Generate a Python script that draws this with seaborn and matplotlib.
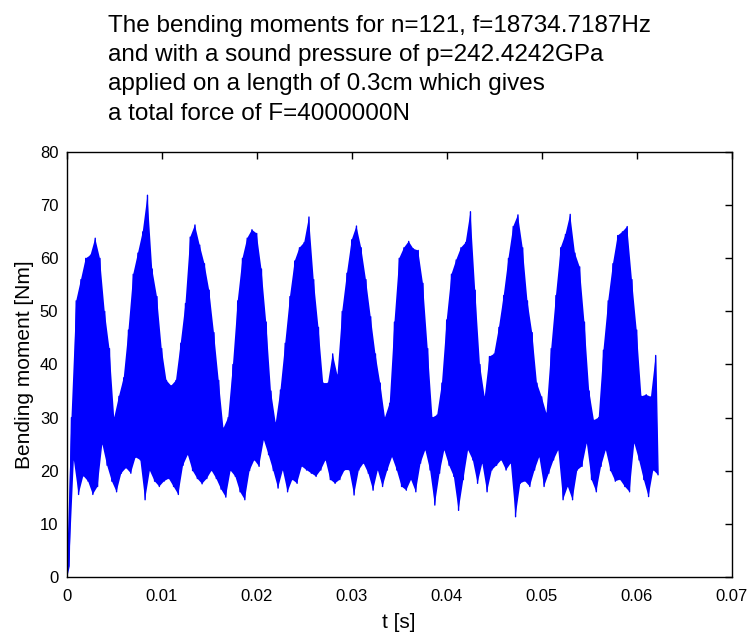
import numpy as np
import pandas as pd
import matplotlib
matplotlib.use("Agg")
import matplotlib.pyplot as plt
import seaborn as sns

# Upper envelope (peaks) sampled every 0.5 ms starting at t = 0
upper_peaks = [0, 30, 52, 56, 60, 60.6, 63.8, 60, 50, 43,
               30, 34, 37.5, 46.5, 57, 61, 65, 71.9, 58, 52.8,
               43, 37, 36, 37, 44, 51.5, 64, 66.3, 62.5, 59,
               54, 46, 37, 28, 30, 40, 52, 60, 63.8, 65.4,
               64.7, 58, 48, 35, 29, 35.2, 44, 52.8, 59.5, 62,
               63, 67.8, 56, 47, 36.5, 36.5, 42, 38, 50, 57.2,
               63.5, 66.1, 62, 56, 49, 42, 36.5, 30, 32.7, 48,
               60, 62, 63.2, 61.8, 61.5, 55.3, 43, 30, 30.5, 36.5,
               48.4, 57, 59.7, 62, 63, 68.8, 54, 40, 33.9, 41.5,
               42, 47, 53, 60, 66, 68.2, 62, 52, 46, 36.5,
               33.9, 30.8, 43, 53, 62, 64.5, 68.3, 61, 58.4, 48,
               35, 29.5, 30, 42.7, 52, 59, 64.3, 65, 66, 56,
               46.5, 34, 34.3, 33.9, 41.7]

# Lower envelope (troughs) sampled every 0.5 ms starting at t = 0.25 ms
lower_troughs = [2, 22, 15.5, 19, 18, 15.5, 17, 25, 21, 18,
                 16, 19.5, 20.5, 19.5, 22.5, 22, 14.5, 20, 18, 17,
                 18, 18.5, 17, 15.5, 21, 23, 20, 18.5, 17.5, 18.5,
                 20, 18.5, 16.5, 15, 20, 18.9, 16, 14.5, 20, 22,
                 20.8, 25.8, 23, 20, 16.7, 20.1, 16, 18.3, 17.6, 20.8,
                 20.1, 19.5, 18.9, 20.1, 22, 18.3, 17.6, 18.3, 20.1, 20.1,
                 15.4, 20.1, 21.4, 19.5, 16.3, 20.1, 17, 20.1, 22.6, 20.1,
                 17, 16.3, 18.3, 16, 21.4, 23.9, 20.1, 13.5, 19.5, 23.9,
                 21, 18.9, 12.5, 18.3, 23.9, 22, 17.6, 21.4, 16, 20.1,
                 21, 22, 20.1, 21.4, 11.3, 17.6, 18, 17, 20.1, 22.6,
                 17, 19.5, 22, 23.9, 14.5, 17, 14.5, 20.1, 20.8, 25.2,
                 18.3, 16, 20.8, 23.9, 20, 18, 18.3, 17, 16, 25.2,
                 22, 18.3, 15.1, 20.1, 19.2]

sample_step = 0.0005
t_upper = np.arange(len(upper_peaks)) * sample_step
t_lower = t_upper + sample_step / 2

t = np.empty(2 * len(upper_peaks))
m = np.empty(2 * len(upper_peaks))
t[0::2] = t_upper
t[1::2] = t_lower
m[0::2] = upper_peaks
m[1::2] = lower_troughs
df = pd.DataFrame({"t": t, "moment": m})

title_lines = ["The bending moments for n=121, f=18734.7187Hz",
               "and with a sound pressure of p=242.4242GPa",
               "applied on a length of 0.3cm which gives",
               "a total force of F=4000000N"]
x_ticks = [0, 0.01, 0.02, 0.03, 0.04, 0.05, 0.06, 0.07]
x_tick_labels = ["0", "0.01", "0.02", "0.03", "0.04", "0.05", "0.06", "0.07"]
y_ticks = [0, 10, 20, 30, 40, 50, 60, 70, 80]

sns.set_style("white")
plt.rcParams["font.family"] = ["Liberation Sans", "DejaVu Sans"]

fig = plt.figure(figsize=(7.48, 6.35), dpi=100)
ax = fig.add_axes([0.0892, 0.0918, 0.889, 0.6684])

blue = "#0000ff"
# dense oscillation band between troughs and peaks
ax.fill(np.r_[t_upper, t_lower[::-1]],
        np.r_[upper_peaks, lower_troughs[::-1]],
        color=blue, linewidth=0)
sns.lineplot(data=df, x="t", y="moment", ax=ax, color=blue,
             linewidth=1.0, estimator=None, sort=False)

ax.set_xlim(0, 0.07)
ax.set_ylim(0, 80)
ax.set_xticks(x_ticks)
ax.set_xticklabels(x_tick_labels)
ax.set_yticks(y_ticks)
ax.tick_params(direction="in", top=True, right=True, length=5, width=1,
               labelsize=12, colors="black", labelcolor="black")
ax.tick_params(axis="x", pad=9)
ax.tick_params(axis="y", pad=6)
for s in ax.spines.values():
    s.set_visible(True)
    s.set_color("black")
    s.set_linewidth(1)

ax.set_xlabel("t [s]", fontsize=15, labelpad=6, color="black")
ax.set_ylabel("Bending moment [Nm]", fontsize=15, labelpad=4, color="black")

fig.text(0.145, 0.977, "\n".join(title_lines), ha="left", va="top",
         fontsize=17.5, linespacing=1.43, color="black")

fig.savefig("out.png", dpi=100)
